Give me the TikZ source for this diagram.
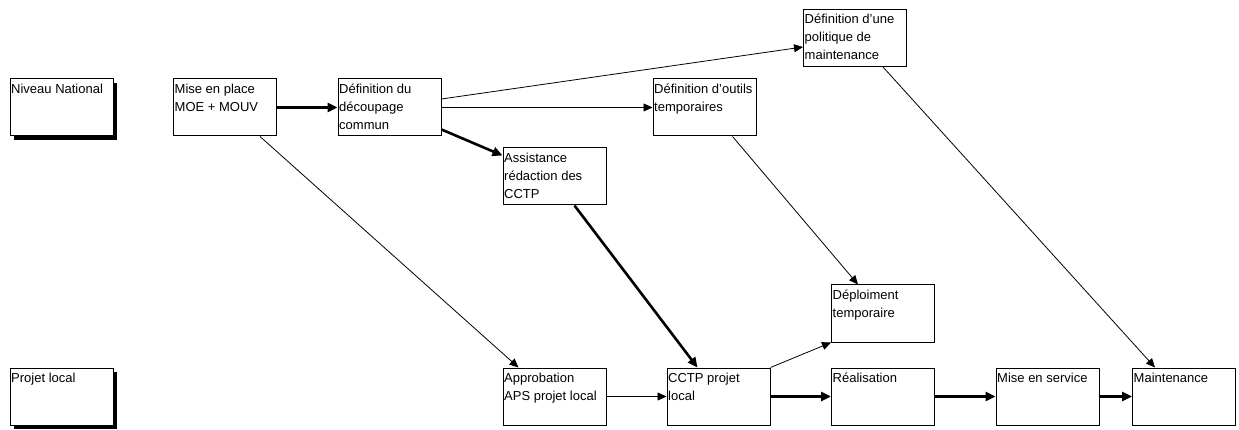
\documentclass[tikz,border=0pt]{standalone}
\usepackage{fontspec}
\setmainfont{Liberation Sans}[Ligatures=ResetAll]
\usepackage{tikz}
\usetikzlibrary{positioning, arrows.meta, shadows}
\tikzset{etape/.style={draw, line width=1pt, fill=white, minimum width=103pt, minimum height=57pt, inner sep=0pt}}
\tikzset{ombre/.style={drop shadow={shadow xshift=4pt, shadow yshift=-4pt, fill=black, opacity=1}}}
\tikzset{etiq/.style={anchor=base west, inner sep=0pt, xshift=1.5pt, yshift=-15pt, font=\fontsize{13}{18}\selectfont}}
\tikzset{fl/.style={draw, line width=0.8pt, -{Triangle[length=9pt, width=8pt]}}}
\tikzset{flg/.style={draw, line width=2.6pt, -{Triangle[length=10pt, width=9pt]}}}
\newcommand{\txt}[1]{\parbox[t]{100pt}{#1}}

\begin{document}
\begin{tikzpicture}[x=1pt, y=-1pt]
			\useasboundingbox (0,0) rectangle (1239,430);
			% niveaux
			\node[etape, ombre, label={[etiq, name=nat-t]north west:\txt{Niveau National}}] (nat) at (61.5,107.5) {};
			\node[etape, ombre, label={[etiq, name=loc-t]north west:\txt{Projet local}}] (loc) at (61.5,396.5) {};
%
			\node[etape, label={[etiq, name=mep-t]north west:\txt{Mise en place\\MOE + MOUV}}] (mep) at (225,107.5) {};
			\node[etape, label={[etiq, name=dec-t]north west:\txt{Définition du\\découpage\\commun}}] (dec) at (389.5,107.5) {};
			\node[etape, label={[etiq, name=ass-t]north west:\txt{Assistance\\rédaction des\\CCTP}}] (ass) at (554.5,176.5) {};
			\node[etape, label={[etiq, name=out-t]north west:\txt{Définition d'outils\\temporaires}}] (out) at (704.5,107.5) {};
			\node[etape, label={[etiq, name=pol-t]north west:\txt{Définition d'une\\politique de\\maintenance}}] (pol) at (855,38) {};
			\node[etape, label={[etiq, name=dep-t]north west:\txt{Déploiment\\temporaire}}] (dep) at (883,313.5) {};
%
			\node[etape, label={[etiq, name=apr-t]north west:\txt{Approbation\\APS projet local}}] (apr) at (554.5,396.5) {};
			\node[etape, label={[etiq, name=cctp-t]north west:\txt{CCTP projet\\local}}] (cctp) at (718.5,396.5) {};
			\node[etape, label={[etiq, name=rea-t]north west:\txt{Réalisation}}] (rea) at (883,396.5) {};
			\node[etape, label={[etiq, name=mes-t]north west:\txt{Mise en service}}] (mes) at (1047.5,396.5) {};
			\node[etape, label={[etiq, name=mai-t]north west:\txt{Maintenance}}] (mai) at (1184,396.5) {};
%
			% liens
			\draw[flg] (mep.east) -- (dec.west);
			\draw[fl] ([yshift=8.5pt]dec.east) -- ([yshift=-9pt]pol.west);
			\draw[fl] (dec.east) -- (out.west);
			\draw[flg] ([yshift=-22pt]dec.east) -- ([yshift=21pt]ass.west);
			\draw[fl] ([xshift=35pt]mep.south) -- ([xshift=-36pt]apr.north);
			\draw[flg] ([xshift=20pt]ass.south) -- ([xshift=-21pt]cctp.north);
			\draw[fl] ([xshift=28pt]out.south) -- ([xshift=-25pt]dep.north);
			\draw[fl] ([xshift=28pt]pol.south) -- ([xshift=-29pt]mai.north);
			\draw[fl] (apr.east) -- (cctp.west);
			\draw[fl] (cctp.north east) -- (dep.south west);
			\draw[flg] (cctp.east) -- (rea.west);
			\draw[flg] (rea.east) -- (mes.west);
			\draw[flg] (mes.east) -- (mai.west);
\end{tikzpicture}
\end{document}
